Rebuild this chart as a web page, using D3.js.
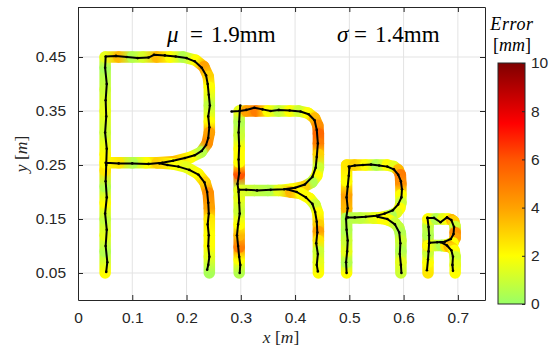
<!DOCTYPE html>
<html>
<head>
<meta charset="utf-8">
<script src="https://cdnjs.cloudflare.com/ajax/libs/d3/7.8.5/d3.min.js"></script>
<style>
  body { margin: 0; background: #fff; }
  svg { display: block; font-family: "Liberation Sans", Arial, sans-serif; }
</style>
</head>
<body>
<svg id="chart" width="549" height="349"></svg>
<script>
// reference letter paths: [x (m), y (m), error (mm)]
const ref1Main = [[0.05,0.05,2],[0.05,0.09,0.5],[0.05,0.12,1.5],[0.05,0.15,0.8],[0.05,0.18,2],[0.05,0.21,0.5],[0.05,0.24,2.5],[0.05,0.27,2],[0.05,0.31,1],[0.05,0.35,1.5],[0.05,0.39,1],[0.05,0.43,0.3],[0.05,0.45,1.5],
  [0.075,0.45,3.5],[0.1,0.45,0.5],[0.12,0.45,1.2],[0.145,0.45,3.5],[0.17,0.45,2],[0.194,0.45,0.5],[0.217,0.444,2],[0.232,0.432,4],[0.24,0.414,3],[0.242,0.394,2],[0.242,0.36,0.8],[0.242,0.33,2],[0.242,0.31,4],[0.238,0.29,4.5],[0.227,0.274,0.6],[0.207,0.264,2],[0.175,0.256,3.5],[0.146,0.254,3],[0.125,0.254,2],[0.1,0.254,0.5],[0.075,0.254,2.5],[0.05,0.254,2]];
const ref1Leg = [[0.146,0.254,3],[0.175,0.252,2],[0.2,0.246,1.5],[0.221,0.234,2],[0.234,0.218,3],[0.24,0.198,4.5],[0.242,0.17,4],[0.242,0.15,2.5],[0.242,0.12,2],[0.242,0.1,2],[0.242,0.08,1.5],[0.242,0.05,0.3]];

const ref2Main = [[0.297,0.05,0.5],[0.297,0.075,2],[0.297,0.098,5],[0.297,0.12,3.5],[0.297,0.14,2],[0.297,0.165,1],[0.297,0.19,1.5],[0.297,0.205,0.5],[0.297,0.233,6],[0.297,0.255,2],[0.297,0.28,2],[0.297,0.305,1],[0.297,0.33,0.5],[0.297,0.35,1.5],
  [0.31,0.35,4],[0.328,0.35,5],[0.35,0.35,2],[0.37,0.35,0.8],[0.39,0.35,2],[0.407,0.35,1],[0.424,0.346,2],[0.436,0.337,3.5],[0.442,0.323,4.5],[0.443,0.308,5.5],[0.443,0.29,5],[0.443,0.27,3],[0.443,0.245,1],[0.44,0.23,2],[0.431,0.218,0.5],[0.417,0.21,3],[0.392,0.205,2],[0.37,0.203,1.5],[0.35,0.203,0.5],[0.325,0.203,0.8],[0.297,0.203,1.5]];
const ref2Leg = [[0.37,0.203,1.5],[0.392,0.2,3.5],[0.411,0.197,2],[0.427,0.188,2],[0.437,0.176,1],[0.442,0.161,2],[0.443,0.14,3],[0.443,0.127,4],[0.443,0.11,2.5],[0.443,0.09,1],[0.443,0.07,1.5],[0.443,0.05,2]];

const ref3Main = [[0.495,0.05,2],[0.495,0.07,0.5],[0.495,0.09,1.5],[0.495,0.11,1],[0.495,0.13,0.5],[0.495,0.152,0.8],[0.495,0.17,3.5],[0.495,0.195,4],[0.495,0.22,2],[0.495,0.25,2.5],
  [0.51,0.25,3],[0.53,0.25,2],[0.55,0.25,0.5],[0.57,0.25,2],[0.582,0.247,1.5],[0.59,0.241,3.5],[0.594,0.232,5],[0.595,0.215,4.5],[0.595,0.195,2],[0.595,0.18,1],[0.593,0.17,2],[0.587,0.162,1.5],[0.577,0.157,0.5],[0.56,0.153,2],[0.545,0.152,1.5],[0.52,0.152,0.8],[0.495,0.152,0.5]];
const ref3Leg = [[0.545,0.152,1.5],[0.56,0.151,2],[0.573,0.148,2],[0.584,0.142,1],[0.591,0.134,0.8],[0.594,0.124,0.5],[0.595,0.11,1],[0.595,0.09,0.5],[0.595,0.07,1.5],[0.595,0.05,1]];

const ref4Main = [[0.645,0.05,2.5],[0.645,0.07,2],[0.645,0.088,1],[0.645,0.101,3],[0.645,0.12,0.5],[0.645,0.138,0.8],[0.645,0.15,2],[0.66,0.15,0.5],[0.672,0.15,1.5],[0.6825,0.15,2],[0.6885,0.1485,3.5],[0.6925,0.1455,3],[0.695,0.136,1],[0.695,0.125,4.5],[0.695,0.115,4],[0.691,0.106,2],[0.6775,0.1015,1.5],[0.67,0.101,0.5],[0.658,0.101,1],[0.645,0.101,2]];
const ref4Leg = [[0.67,0.101,0.5],[0.6775,0.1,2.5],[0.684,0.099,3.5],[0.6895,0.096,3],[0.693,0.092,2],[0.695,0.08,1],[0.695,0.065,1.5],[0.695,0.05,2]];

// measured trajectories: [x (m), y (m)]
const traj1Main = [[0.052,0.052],[0.054,0.07],[0.051,0.1],[0.053,0.13],[0.05,0.16],[0.053,0.19],[0.051,0.22],[0.052,0.25],[0.053,0.28],[0.05,0.31],[0.052,0.34],[0.051,0.37],[0.053,0.4],[0.05,0.43],[0.051,0.451],
  [0.07,0.452],[0.09,0.45],[0.11,0.448],[0.13,0.449],[0.14,0.454],[0.16,0.453],[0.18,0.451],[0.2,0.448],[0.215,0.442],[0.228,0.43],[0.236,0.416],[0.239,0.4],[0.241,0.38],[0.243,0.36],[0.24,0.34],[0.242,0.32],[0.24,0.3],[0.236,0.287],[0.228,0.276],[0.215,0.268],[0.197,0.263],[0.175,0.258],[0.155,0.254],[0.13,0.252],[0.1,0.253],[0.075,0.253],[0.051,0.254]];
const traj1Leg = [[0.15,0.253],[0.165,0.25],[0.185,0.247],[0.205,0.241],[0.222,0.232],[0.233,0.218],[0.238,0.2],[0.24,0.18],[0.241,0.16],[0.239,0.14],[0.241,0.12],[0.24,0.1],[0.242,0.08],[0.24,0.065],[0.238,0.056]];

const traj2Main = [[0.283,0.349],[0.298,0.35],[0.31,0.352],[0.325,0.356],[0.34,0.353],[0.355,0.35],[0.37,0.352],[0.39,0.351],[0.41,0.349],[0.425,0.344],[0.436,0.333],[0.44,0.315],[0.442,0.29],[0.44,0.265],[0.438,0.245],[0.432,0.228],[0.418,0.214],[0.4,0.208],[0.38,0.205],[0.355,0.204],[0.33,0.203],[0.31,0.204],[0.297,0.204]];
const traj2Stem = [[0.299,0.36],[0.298,0.35],[0.297,0.33],[0.296,0.31],[0.297,0.285],[0.296,0.26],[0.297,0.235],[0.294,0.215],[0.296,0.2],[0.297,0.18],[0.298,0.16],[0.295,0.14],[0.293,0.12],[0.295,0.1],[0.297,0.08],[0.299,0.065],[0.298,0.05]];
const traj2Leg = [[0.385,0.205],[0.403,0.2],[0.42,0.19],[0.432,0.178],[0.437,0.163],[0.44,0.145],[0.441,0.125],[0.439,0.105],[0.442,0.085],[0.44,0.065],[0.442,0.053]];

const traj3Main = [[0.499,0.247],[0.51,0.249],[0.525,0.25],[0.54,0.251],[0.555,0.249],[0.57,0.247],[0.582,0.242],[0.59,0.232],[0.595,0.22],[0.597,0.205],[0.596,0.19],[0.59,0.177],[0.58,0.166],[0.565,0.16],[0.55,0.156],[0.53,0.154],[0.51,0.153],[0.497,0.153]];
const traj3Stem = [[0.5,0.245],[0.499,0.23],[0.497,0.21],[0.495,0.19],[0.497,0.17],[0.494,0.15],[0.495,0.13],[0.497,0.11],[0.496,0.09],[0.494,0.07],[0.495,0.05]];
const traj3Leg = [[0.552,0.154],[0.57,0.15],[0.584,0.14],[0.592,0.125],[0.594,0.105],[0.593,0.085],[0.595,0.065],[0.596,0.05]];

const traj4Main = [[0.644,0.152],[0.656,0.152],[0.668,0.144],[0.68,0.153],[0.688,0.148],[0.693,0.135],[0.692,0.122],[0.687,0.113],[0.676,0.108],[0.662,0.107],[0.648,0.106]];
const traj4Stem = [[0.644,0.152],[0.646,0.135],[0.647,0.12],[0.647,0.105],[0.646,0.09],[0.645,0.075],[0.643,0.055]];
const traj4Leg = [[0.668,0.107],[0.68,0.101],[0.688,0.092],[0.691,0.08],[0.69,0.065],[0.691,0.054]];

// axes / colorbar labels
const xTicks = [0, 0.1, 0.2, 0.3, 0.4, 0.5, 0.6, 0.7];
const xTickLabels = ["0", "0.1", "0.2", "0.3", "0.4", "0.5", "0.6", "0.7"];
const yTicks = [0.05, 0.15, 0.25, 0.35, 0.45];
const yTickLabels = ["0.05", "0.15", "0.25", "0.35", "0.45"];
const cbTicks = [0, 2, 4, 6, 8, 10];
const statSymbols = ["μ", "σ"];
const statValues = [1.9, 1.4];

// colormap (error in mm)
const cmapStops = [0, 2, 4, 6, 7.5, 10];
const cmapColors = ["#99ff66", "#ffff00", "#ffa200", "#ff5500", "#ff0000", "#7f0000"];

const refStrokes = [ref1Main, ref1Leg, ref2Main, ref2Leg, ref3Main, ref3Leg, ref4Main, ref4Leg];
const trajStrokes = [traj1Main, traj1Leg, traj2Main, traj2Stem, traj2Leg, traj3Main, traj3Stem, traj3Leg, traj4Main, traj4Stem, traj4Leg];

const svg = d3.select("#chart");
const defs = svg.append("defs");
const axisColor = "#262626";

let x = d3.scaleLinear().domain([0, 0.75]).range([78, 485]);
let y = d3.scaleLinear().domain([0, 0.5426]).range([300, 7]);
let errColor = d3.scaleLinear().domain(cmapStops).range(cmapColors).clamp(true);

// grid
svg.append("g").selectAll("line").data(xTicks.slice(1)).enter().append("line")
  .attr("x1", d => x(d)).attr("x2", d => x(d))
  .attr("y1", y.range()[0]).attr("y2", y.range()[1])
  .attr("stroke", "#e3e3e3").attr("stroke-width", 1);
svg.append("g").selectAll("line").data(yTicks).enter().append("line")
  .attr("x1", x.range()[0]).attr("x2", x.range()[1])
  .attr("y1", d => y(d)).attr("y2", d => y(d))
  .attr("stroke", "#e3e3e3").attr("stroke-width", 1);

// reference paths coloured by error
let segId = 0;
let refLayer = svg.append("g");
refStrokes.forEach(stroke => {
  for (let i = 0; i < stroke.length - 1; i++) {
    let a = stroke[i], b = stroke[i + 1];
    let id = "seg" + (segId++);
    let g = defs.append("linearGradient").attr("id", id)
      .attr("gradientUnits", "userSpaceOnUse")
      .attr("x1", x(a[0])).attr("y1", y(a[1]))
      .attr("x2", x(b[0])).attr("y2", y(b[1]));
    g.append("stop").attr("offset", 0).attr("stop-color", errColor(a[2]));
    g.append("stop").attr("offset", 1).attr("stop-color", errColor(b[2]));
    refLayer.append("line")
      .attr("x1", x(a[0])).attr("y1", y(a[1]))
      .attr("x2", x(b[0])).attr("y2", y(b[1]))
      .attr("stroke", "url(#" + id + ")")
      .attr("stroke-width", 11.5)
      .attr("stroke-linecap", "round");
  }
});

// measured trajectories
let line = d3.line().x(d => x(d[0])).y(d => y(d[1]));
let trajLayer = svg.append("g");
trajStrokes.forEach(stroke => {
  trajLayer.append("path").attr("d", line(stroke))
    .attr("fill", "none").attr("stroke", "#000").attr("stroke-width", 2)
    .attr("stroke-linejoin", "round");
  trajLayer.selectAll(null).data(stroke).enter().append("circle")
    .attr("cx", d => x(d[0])).attr("cy", d => y(d[1])).attr("r", 1.3)
    .attr("fill", "#000");
});

// axes (box with inward ticks)
function styleAxis(g) {
  g.select(".domain").attr("stroke", axisColor);
  g.selectAll(".tick line").attr("stroke", axisColor);
  g.selectAll(".tick text").attr("fill", axisColor).attr("font-size", 15.5)
    .attr("font-family", "Liberation Sans, Arial, sans-serif");
}
svg.append("g").attr("transform", "translate(0,300)")
  .call(d3.axisBottom(x).tickValues(xTicks).tickFormat((d, i) => xTickLabels[i])
    .tickSize(-5).tickSizeOuter(0).tickPadding(12))
  .call(styleAxis);
svg.append("g").attr("transform", "translate(78,0)")
  .call(d3.axisLeft(y).tickValues(yTicks).tickFormat((d, i) => yTickLabels[i])
    .tickSize(-5).tickSizeOuter(0).tickPadding(12))
  .call(styleAxis);
svg.append("g").attr("transform", "translate(0,7)")
  .call(d3.axisTop(x).tickValues(xTicks).tickFormat("").tickSize(-5).tickSizeOuter(0))
  .call(styleAxis);
svg.append("g").attr("transform", "translate(485,0)")
  .call(d3.axisRight(y).tickValues(yTicks).tickFormat("").tickSize(-5).tickSizeOuter(0))
  .call(styleAxis);

// axis labels
const serif = "'Liberation Serif', 'Times New Roman', serif";
let xl = svg.append("text").attr("x", 281).attr("y", 343).attr("text-anchor", "middle")
  .attr("font-family", serif).attr("font-size", 17.5).attr("fill", axisColor);
xl.append("tspan").attr("font-style", "italic").text("x");
xl.append("tspan").text(" [");
xl.append("tspan").attr("font-style", "italic").text("m");
xl.append("tspan").text("]");

let yl = svg.append("text").attr("transform", "translate(27,154) rotate(-90)").attr("text-anchor", "middle")
  .attr("font-family", serif).attr("font-size", 17.5).attr("fill", axisColor);
yl.append("tspan").attr("font-style", "italic").text("y");
yl.append("tspan").text(" [");
yl.append("tspan").attr("font-style", "italic").text("m");
yl.append("tspan").text("]");

// statistics
const statPos = [[167, 190, 211], [337, 354, 375]];
statSymbols.forEach((s, i) => {
  let t = svg.append("text").attr("y", 42).attr("font-family", serif)
    .attr("font-size", 23).attr("fill", "#000");
  t.append("tspan").attr("x", statPos[i][0]).attr("font-style", "italic").text(s);
  t.append("tspan").attr("x", statPos[i][1]).text("=");
  t.append("tspan").attr("x", statPos[i][2]).text(d3.format(".1f")(statValues[i]) + "mm");
});

// colorbar
let cb = d3.scaleLinear().domain([0, 10]).range([304, 63]);
let cbGrad = defs.append("linearGradient").attr("id", "cbGrad")
  .attr("x1", 0).attr("y1", 1).attr("x2", 0).attr("y2", 0);
cmapStops.forEach(s => {
  cbGrad.append("stop").attr("offset", s / 10).attr("stop-color", errColor(s));
});
svg.append("rect").attr("x", 498).attr("y", cb(10)).attr("width", 27)
  .attr("height", cb(0) - cb(10)).attr("fill", "url(#cbGrad)")
  .attr("stroke", axisColor).attr("stroke-width", 1);
svg.append("g").attr("transform", "translate(525,0)")
  .call(d3.axisRight(cb).tickValues(cbTicks).tickSize(-3).tickSizeOuter(0).tickPadding(6))
  .call(styleAxis)
  .call(g => g.select(".domain").remove());

svg.append("text").attr("x", 512).attr("y", 30).attr("text-anchor", "middle")
  .attr("font-family", serif).attr("font-size", 18).attr("fill", "#000")
  .attr("font-style", "italic").attr("letter-spacing", 0.6).text("Error");
let cbu = svg.append("text").attr("x", 512).attr("y", 51).attr("text-anchor", "middle")
  .attr("font-family", serif).attr("font-size", 18).attr("fill", "#000");
cbu.append("tspan").text("[");
cbu.append("tspan").attr("font-style", "italic").text("mm");
cbu.append("tspan").text("]");
</script>
</body>
</html>
